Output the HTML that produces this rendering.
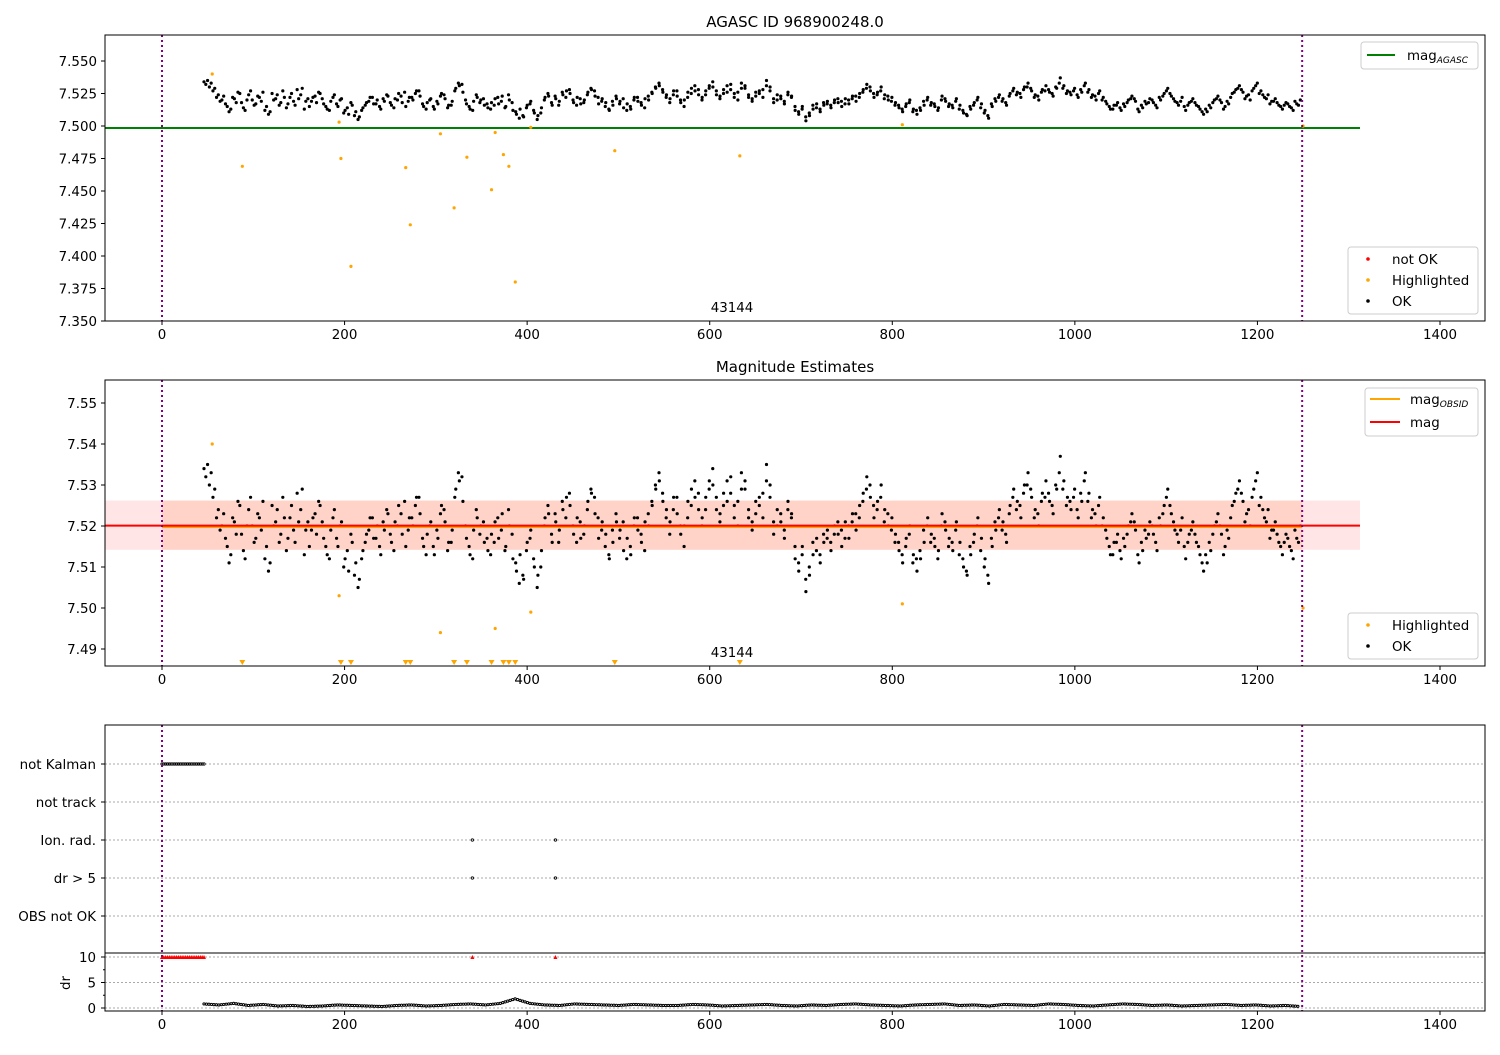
<!DOCTYPE html>
<html><head><meta charset="utf-8"><style>
body{margin:0;background:#fff}
svg{font-family:"DejaVu Sans","Liberation Sans",sans-serif}
</style></head><body>
<svg id="c" width="1500" height="1050" xmlns="http://www.w3.org/2000/svg"></svg>
<script>
// ---- data ----
const okStart = 46, okEnd = 1247;
const okMilli = [34,35,33,29,24,20,17,11,22,18,25,14,20,27,16,23,19,12,9,25,21,16,27,14,22,19,28,24,13,21,
19,23,26,21,15,12,22,17,20,10,14,18,8,5,12,16,19,22,17,15,21,24,18,14,20,23,26,19,
22,25,27,17,13,20,15,19,23,24,14,16,27,33,32,20,15,12,24,18,21,17,13,16,22,19,14,24,18,
11,6,8,14,17,12,5,10,20,25,18,23,16,26,22,28,20,16,21,18,24,29,27,22,19,
15,13,19,23,17,21,12,15,20,22,18,14,23,26,30,33,28,22,18,24,27,20,15,22,25,31,28,20,
24,29,34,27,21,25,31,28,22,26,33,29,24,19,23,27,22,35,30,18,24,21,17,26,23,
12,9,15,4,8,13,17,11,16,19,14,20,18,15,21,17,23,19,25,28,32,27,22,26,30,24,20,22,18,
14,11,17,20,13,9,12,16,22,18,15,14,23,19,17,14,21,16,10,8,13,18,22,17,12,6,15,19,24,21,16,25,29,
26,22,30,33,27,24,20,28,31,26,23,29,37,31,27,24,29,22,26,33,28,24,20,27,
22,17,13,16,18,12,15,20,23,19,11,14,17,21,18,14,20,25,29,23,19,16,22,12,
18,21,16,13,9,11,14,20,23,18,15,17,25,28,31,26,23,20,29,33,27,22,24,19,21,16,13,18,15,12,17,20];
const okMilliB = [32,30,27,22,19,23,15,13,21,26,18,12,24,20,17,22,26,15,11,20,24,18,22,17,25,16,21,29,19,15,
22,18,25,17,13,19,24,15,21,12,9,16,11,7,14,18,22,17,20,13,19,23,16,21,25,18,15,22,
20,27,23,15,18,21,13,17,25,21,16,19,29,31,26,17,13,19,22,20,16,14,18,21,17,23,15,20,12,
9,13,7,16,19,10,8,14,22,23,16,21,19,24,27,25,18,22,17,20,26,28,23,17,21,
18,12,16,21,19,14,17,13,22,19,16,21,20,25,29,31,26,24,21,27,23,18,20,26,29,27,24,22,
27,31,30,24,23,28,26,32,25,20,29,31,22,21,26,25,28,31,27,21,20,23,19,24,22,
15,11,13,7,10,16,14,13,18,17,16,18,21,19,17,20,21,23,22,26,29,30,25,24,27,21,23,19,16,
16,13,15,18,11,12,14,19,20,16,17,12,20,21,15,16,19,13,12,9,15,16,20,14,10,8,17,21,22,19,18,23,27,
24,25,28,30,29,22,23,26,27,28,25,30,33,29,25,26,27,24,28,31,26,22,23,25,
20,19,15,13,16,14,17,18,21,21,13,16,19,18,20,16,22,23,27,25,21,18,19,15,
16,19,18,15,11,13,16,18,21,20,13,19,22,26,29,28,21,24,27,31,25,24,21,17,19,18,15,16,17,14,19,16];
const hlTimes = [55,88,194,196,207,267,272,305,320,334,361,365,374,380,387,404,496,633,811,1250];
const hlMags  = [7.540,7.469,7.503,7.475,7.392,7.468,7.424,7.494,7.437,7.476,7.451,7.495,7.478,7.469,7.380,7.499,7.481,7.477,7.501,7.500];
const magAgasc = 7.4985, magMean = 7.5201, magObsid = 7.5200, magLo = 7.5142, magHi = 7.5262;
const tStart = 0, tStop = 1249;
const kalmanStart = 0, kalmanEnd = 46;
const flagTimes = [340, 431];
const drMilli = [8,6,9,5,7,4,5,3,4,6,5,4,3,5,6,4,5,7,8,6,9,18,9,6,5,8,7,6,5,7,6,5,5,7,6,4,5,6,7,5,4,6,5,7,8,6,5,4,6,7,8,5,6,4,7,6,5,8,7,5,4,6,8,7,5,6,4,5,6,7,5,6,4,5,3];
const xTicks = [0,200,400,600,800,1000,1200,1400];
const y1Ticks = [7.350,7.375,7.400,7.425,7.450,7.475,7.500,7.525,7.550];
const y2Ticks = [7.49,7.50,7.51,7.52,7.53,7.54,7.55];
const cats = ["not Kalman","not track","Ion. rad.","dr > 5","OBS not OK"];
const drTicks = [0,5,10];

// ---- helpers ----
const NS="http://www.w3.org/2000/svg", svg=document.getElementById('c');
function el(t,a,p){const e=document.createElementNS(NS,t);for(const k in a)e.setAttribute(k,a[k]);(p||svg).appendChild(e);return e;}
function txt(x,y,s,a,p){const e=el('text',Object.assign({x:x,y:y,'font-size':13.4,fill:'#000'},a||{}),p);e.textContent=s;return e;}
const X=t=>162+(t-0)*(1278/1400);
const L=105,R=1485;
const Y1=m=>61+(7.550-m)*1300;
const Y2=m=>403+(7.55-m)*4100;
const Ycat=i=>764+i*38;
const Ydr=d=>1008-d*5.1;
const okT=[], okM=[];
okMilli.forEach((v,i)=>{okT.push(okStart+i*(okEnd-okStart)/(okMilli.length-1));okM.push(7.5+v/1000);});
okMilliB.forEach((v,i)=>{okT.push(okStart+2+i*(okEnd-okStart-4)/(okMilliB.length-1));okM.push(7.5+v/1000);});

function xAxis(g,yb){xTicks.forEach(t=>{el('line',{x1:X(t),x2:X(t),y1:yb,y2:yb+4,stroke:'#000'},g);txt(X(t),yb+18,String(t),{'text-anchor':'middle'},g);});}
function vlines(g,yt,yb){[tStart,tStop].forEach(t=>{const l=el('line',{x1:X(t),x2:X(t),y1:yt,y2:yb,stroke:'#800080','stroke-width':2,'stroke-dasharray':'2,3'},g);});}

// ---- panel 1 ----
const g1=el('g',{});
txt(795,27,'AGASC ID 968900248.0',{'text-anchor':'middle','font-size':15,},g1);
el('line',{x1:L,x2:1360,y1:Y1(magAgasc),y2:Y1(magAgasc),stroke:'#008000','stroke-width':2,},g1);
okT.forEach((t,i)=>{const c=el('circle',{cx:X(t),cy:Y1(okM[i]),r:1.6,fill:'#000'},g1);});
hlTimes.forEach((t,i)=>{const c=el('circle',{cx:X(t),cy:Y1(hlMags[i]),r:1.6,fill:'orange'},g1);});
vlines(g1,35,321);
txt(732,312,'43144',{'text-anchor':'middle',},g1);
el('rect',{x:L,y:35,width:R-L,height:286,fill:'none',stroke:'#000','stroke-width':1},g1);
y1Ticks.forEach(m=>{el('line',{x1:L-4,x2:L,y1:Y1(m),y2:Y1(m),stroke:'#000'},g1);txt(L-8,Y1(m)+5,m.toFixed(3),{'text-anchor':'end'},g1);});
xAxis(g1,321);
const lg1=el('g',{},g1);
el('rect',{x:1361,y:42,width:117,height:27,rx:3,fill:'#fff',stroke:'#ccc'},lg1);
el('line',{x1:1367,x2:1395,y1:55,y2:55,stroke:'#008000','stroke-width':2},lg1);
const t1=txt(1407,60,'mag',{},lg1);const s1=el('tspan',{'font-size':9,'font-style':'italic',dy:3},t1);s1.textContent='AGASC';
const lg2=el('g',{},g1);
el('rect',{x:1348,y:247,width:130,height:67,rx:3,fill:'#fff',stroke:'#ccc'},lg2);
[['red','not OK',259],['orange','Highlighted',280],['#000','OK',301]].forEach(d=>{el('circle',{cx:1368,cy:d[2],r:1.8,fill:d[0]},lg2);txt(1392,d[2]+5,d[1],{},lg2);});

// ---- panel 2 ----
const g2=el('g',{});
txt(795,372,'Magnitude Estimates',{'text-anchor':'middle','font-size':15,},g2);
el('rect',{x:L,y:Y2(magHi),width:1360-L,height:Y2(magLo)-Y2(magHi),fill:'rgba(255,0,0,0.1)',},g2);
el('rect',{x:X(tStart),y:Y2(magHi),width:X(tStop)-X(tStart),height:Y2(magLo)-Y2(magHi),fill:'rgba(255,140,80,0.2)',},g2);
okT.forEach((t,i)=>{const c=el('circle',{cx:X(t),cy:Y2(okM[i]),r:1.6,fill:'#000'},g2);});
hlTimes.forEach((t,i)=>{const m=hlMags[i];
 if(m<7.4859){const x=X(t),y=663;const p=el('path',{d:`M${x-3},${y-3}L${x+3},${y-3}L${x},${y+2}Z`,fill:'orange'},g2);}
 else{const c=el('circle',{cx:X(t),cy:Y2(m),r:1.6,fill:'orange'},g2);}});
el('line',{x1:X(tStart),x2:X(tStop),y1:Y2(magObsid)+1,y2:Y2(magObsid)+1,stroke:'orange','stroke-width':2,},g2);
el('line',{x1:L,x2:1360,y1:Y2(magMean),y2:Y2(magMean),stroke:'red','stroke-width':2,},g2);
vlines(g2,380,666);
txt(732,657,'43144',{'text-anchor':'middle',},g2);
el('rect',{x:L,y:380,width:R-L,height:286,fill:'none',stroke:'#000'},g2);
y2Ticks.forEach(m=>{el('line',{x1:L-4,x2:L,y1:Y2(m),y2:Y2(m),stroke:'#000'},g2);txt(L-8,Y2(m)+5,m.toFixed(2),{'text-anchor':'end'},g2);});
xAxis(g2,666);
const lg3=el('g',{},g2);
el('rect',{x:1365,y:388,width:113,height:48,rx:3,fill:'#fff',stroke:'#ccc'},lg3);
el('line',{x1:1370,x2:1400,y1:399,y2:399,stroke:'orange','stroke-width':2},lg3);
const t2=txt(1410,404,'mag',{},lg3);const s2=el('tspan',{'font-size':9,'font-style':'italic',dy:3},t2);s2.textContent='OBSID';
el('line',{x1:1370,x2:1400,y1:422,y2:422,stroke:'red','stroke-width':2},lg3);
txt(1410,427,'mag',{},lg3);
const lg4=el('g',{},g2);
el('rect',{x:1348,y:613,width:130,height:46,rx:3,fill:'#fff',stroke:'#ccc'},lg4);
[['orange','Highlighted',625],['#000','OK',646]].forEach(d=>{el('circle',{cx:1368,cy:d[2],r:1.8,fill:d[0]},lg4);txt(1392,d[2]+5,d[1],{},lg4);});

// ---- panel 3 ----
const g3=el('g',{});
cats.forEach((c,i)=>{el('line',{x1:L,x2:R,y1:Ycat(i),y2:Ycat(i),stroke:'#aaa','stroke-dasharray':'2,2'},g3);el('line',{x1:L-4,x2:L,y1:Ycat(i),y2:Ycat(i),stroke:'#000'},g3);txt(L-9,Ycat(i)+5,c,{'text-anchor':'end'},g3);});
drTicks.forEach(d=>{el('line',{x1:L,x2:R,y1:Ydr(d),y2:Ydr(d),stroke:'#aaa','stroke-dasharray':'2,2'},g3);el('line',{x1:L-4,x2:L,y1:Ydr(d),y2:Ydr(d),stroke:'#000'},g3);txt(L-9,Ydr(d)+5,String(d),{'text-anchor':'end'},g3);});
[2.5,7.5].forEach(d=>el('line',{x1:L-2,x2:L,y1:Ydr(d),y2:Ydr(d),stroke:'#000'},g3));
for(let t=kalmanStart;t<=kalmanEnd;t+=2){
 const c=el('circle',{cx:X(t),cy:Ycat(0),r:1.2,fill:'none',stroke:'#000','stroke-width':0.8},g3);
 const r=el('path',{d:`M${X(t)-2},${Ydr(10)+2}L${X(t)+2},${Ydr(10)+2}L${X(t)},${Ydr(10)-2}Z`,fill:'red'},g3);}
flagTimes.forEach(t=>{[2,3].forEach(i=>{const c=el('circle',{cx:X(t),cy:Ycat(i),r:1.2,fill:'none',stroke:'#000','stroke-width':0.8},g3);});
 const r=el('path',{d:`M${X(t)-2},${Ydr(10)+2}L${X(t)+2},${Ydr(10)+2}L${X(t)},${Ydr(10)-2}Z`,fill:'red'},g3);});
const drT=drMilli.map((v,i)=>okStart+i*(okEnd-okStart)/(drMilli.length-1));
const drPts=[];
for(let i=0;i<drT.length-1;i++){for(let k=0;k<6;k++){const t=drT[i]+k*(drT[i+1]-drT[i])/6;const v=(drMilli[i]*(6-k)+drMilli[i+1]*k)/60;drPts.push([t,v]);}}
drPts.forEach(p=>{const c=el('circle',{cx:X(p[0]),cy:Ydr(p[1]),r:1.1,fill:'none',stroke:'#000','stroke-width':1},g3);});
vlines(g3,725,1011);
el('rect',{x:L,y:725,width:R-L,height:286,fill:'none',stroke:'#000'},g3);
el('line',{x1:L,x2:R,y1:953,y2:953,stroke:'#000'},g3);
txt(70,983,'dr',{'text-anchor':'middle',transform:'rotate(-90 70 983)',},g3);
xAxis(g3,1011);
</script>
</body></html>
